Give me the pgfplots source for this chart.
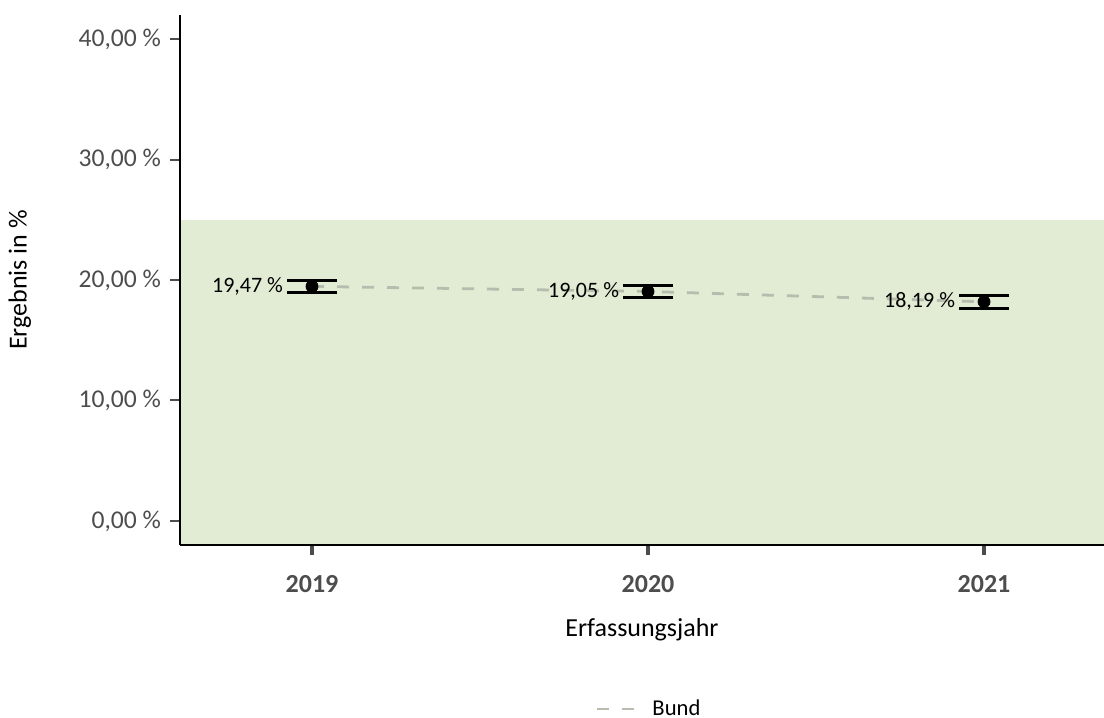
\documentclass[border=0pt]{standalone}
\usepackage{fontspec}
\setmainfont{Carlito}
\usepackage{pgfplots}
\pgfplotsset{compat=1.18}
\definecolor{bandgreen}{RGB}{226,235,211}
\definecolor{bundgray}{RGB}{182,189,174}
\definecolor{tickgray}{RGB}{77,77,77}
\begin{document}
\begin{tikzpicture}
\useasboundingbox (-90pt,-86.5pt) rectangle (462pt,272.5pt);
\begin{axis}[
  at={(0,0)}, anchor=south west,
  scale only axis, width=462pt, height=265pt,
  xmin=0.6071, xmax=3.357, ymin=-2, ymax=42,
  axis x line*=bottom, axis y line*=left,
  axis line style={black, line width=1pt},
  axis on top, clip=false,
  tick align=outside,
  major tick length=5pt,
  xtick={1,2,3},
  xticklabels={2019,2020,2021},
  ytick={0,10,20,30,40},
  yticklabels={{0,00 \%},{10,00 \%},{20,00 \%},{30,00 \%},{40,00 \%}},
  xtick style={line width=2pt, tickgray},
  ytick style={line width=1pt, tickgray},
  xticklabel style={font=\fontsize{13}{15}\selectfont\bfseries, text=tickgray, yshift=-6.5pt},
  yticklabel style={font=\fontsize{12.8}{15}\selectfont, text=tickgray, xshift=-1pt},
  xlabel={Erfassungsjahr},
  ylabel={Ergebnis in \%},
  every axis x label/.style={at={(axis description cs:0.5,-0.1604)}, anchor=center, font=\fontsize{13}{15}\selectfont},
  every axis y label/.style={at={(axis description cs:-0.1732,0.5)}, anchor=center, rotate=90, font=\fontsize{13}{15}\selectfont},
  legend style={at={(axis description cs:0.5087,-0.3094)}, anchor=center, draw=none, fill=none, font=\fontsize{11.3}{13}\selectfont},
  legend cell align=left,
  legend image code/.code={\draw[#1] (0pt,0pt) -- (18.5pt,0pt); \path (0pt,0pt) -- (25pt,0pt);},
]
\addplot[draw=none, fill=bandgreen, forget plot] coordinates {(0.6071,-2) (3.357,-2) (3.357,25) (0.6071,25)} -- cycle;
\addplot[bundgray, line width=1.4pt, dash pattern=on 6pt off 6.5pt]
  coordinates {(1,19.47) (2,19.05) (3,18.19)};
\addlegendentry{Bund}
\addplot[forget plot, only marks, mark=none, black,
  error bars/.cd, y dir=both, y explicit, error mark=none,
  error bar style={line width=1.5pt, black}]
  coordinates {(1,19.47) +- (0,0.51) (2,19.05) +- (0,0.51) (3,18.19) +- (0,0.52)};
\addplot[forget plot, only marks, mark=-, mark size=12.5pt, mark options={line width=1.5pt, black}]
  coordinates {(1,19.98) (2,19.56) (3,18.71)};
\addplot[forget plot, only marks, mark=-, mark size=12.5pt, mark options={line width=1.5pt, black}]
  coordinates {(1,18.96) (2,18.54) (3,17.67)};
\addplot[forget plot, only marks, mark=*, mark size=3pt, black,
  point meta=explicit symbolic,
  nodes near coords,
  every node near coord/.append style={anchor=east, xshift=-11pt, yshift=0pt, font=\fontsize{11}{13}\selectfont, text=black}]
  coordinates {(1,19.47) [19,47 \%] (2,19.05) [19,05 \%] (3,18.19) [18,19 \%]};
\end{axis}
\end{tikzpicture}
\end{document}
